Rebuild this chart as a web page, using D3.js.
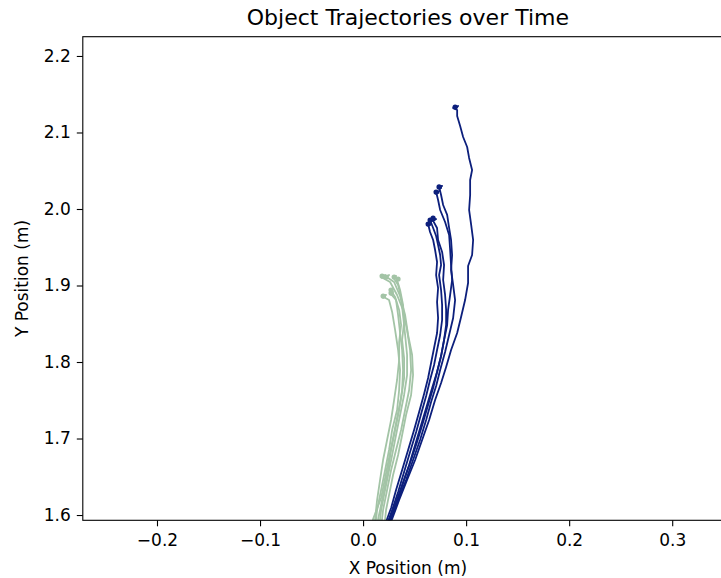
<!DOCTYPE html>
<html><head><meta charset="utf-8">
<script src="https://cdn.jsdelivr.net/npm/d3@7"></script>
<style>body{margin:0;background:#fff}svg{display:block}text{font-family:"DejaVu Sans",sans-serif;fill:#000}</style>
</head><body>
<svg id="c" width="721" height="578"></svg>
<script>
const title = "Object Trajectories over Time";
const xLabel = "X Position (m)";
const yLabel = "Y Position (m)";
const xTicks = [-0.2, -0.1, 0.0, 0.1, 0.2, 0.3];
const yTicks = [1.6, 1.7, 1.8, 1.9, 2.0, 2.1, 2.2];
const xDomain = [-0.272, 0.359];
const yDomain = [1.5931, 2.2252];

// navy group trajectories [x, y]
const navy1 = [[0.0874,2.1333],[0.0922,2.1346],[0.0893,2.1307],[0.0874,2.1320],[0.0913,2.1294],[0.0913,2.1216],[0.0942,2.1085],[0.0971,2.0941],[0.1010,2.0810],[0.1029,2.0667],[0.1058,2.0510],[0.1039,2.0379],[0.1039,2.0183],[0.1029,1.9987],[0.1049,1.9791],[0.1068,1.9595],[0.1058,1.9399],[0.1019,1.9255],[0.1019,1.9033],[0.0990,1.8810],[0.0951,1.8588],[0.0913,1.8379],[0.0854,1.8157],[0.0806,1.7935],[0.0757,1.7725],[0.0699,1.7503],[0.0641,1.7242],[0.0573,1.6980],[0.0505,1.6719],[0.0427,1.6458],[0.0350,1.6196],[0.0282,1.5948],[0.0260,1.588]];
const navy2 = [[0.0718,2.0288],[0.0767,2.0301],[0.0738,2.0262],[0.0757,2.0275],[0.0738,2.0288],[0.0757,2.0183],[0.0777,2.0052],[0.0816,1.9922],[0.0835,1.9752],[0.0854,1.9595],[0.0864,1.9399],[0.0854,1.9203],[0.0874,1.9007],[0.0893,1.8810],[0.0874,1.8575],[0.0835,1.8353],[0.0796,1.8131],[0.0748,1.7895],[0.0709,1.7686],[0.0660,1.7477],[0.0612,1.7242],[0.0553,1.6980],[0.0485,1.6719],[0.0417,1.6458],[0.0340,1.6196],[0.0272,1.5948],[0.0250,1.588]];
const navy3 = [[0.0689,2.0222],[0.0738,2.0235],[0.0709,2.0196],[0.0728,2.0209],[0.0709,2.0222],[0.0728,2.0118],[0.0748,1.9987],[0.0796,1.9830],[0.0835,1.9660],[0.0845,1.9464],[0.0854,1.9268],[0.0864,1.9072],[0.0845,1.8876],[0.0825,1.8680],[0.0816,1.8484],[0.0786,1.8288],[0.0757,1.8078],[0.0718,1.7869],[0.0670,1.7660],[0.0621,1.7438],[0.0563,1.7176],[0.0505,1.6915],[0.0447,1.6654],[0.0379,1.6392],[0.0311,1.6131],[0.0252,1.5948],[0.0235,1.588]];
const navy4 = [[0.0631,1.9856],[0.0680,1.9869],[0.0650,1.9830],[0.0670,1.9843],[0.0650,1.9856],[0.0680,1.9752],[0.0709,1.9647],[0.0728,1.9529],[0.0748,1.9399],[0.0757,1.9268],[0.0738,1.9137],[0.0757,1.8941],[0.0767,1.8745],[0.0767,1.8549],[0.0748,1.8353],[0.0718,1.8157],[0.0689,1.7961],[0.0650,1.7765],[0.0612,1.7556],[0.0563,1.7320],[0.0515,1.7085],[0.0456,1.6824],[0.0398,1.6562],[0.0340,1.6301],[0.0282,1.6065],[0.0252,1.5948],[0.0240,1.588]];
const navy5 = [[0.0612,1.9804],[0.0660,1.9817],[0.0631,1.9778],[0.0650,1.9791],[0.0631,1.9804],[0.0650,1.9699],[0.0680,1.9595],[0.0699,1.9464],[0.0718,1.9307],[0.0709,1.9137],[0.0728,1.8967],[0.0718,1.8784],[0.0728,1.8575],[0.0718,1.8379],[0.0689,1.8183],[0.0660,1.7987],[0.0631,1.7791],[0.0592,1.7582],[0.0544,1.7346],[0.0495,1.7111],[0.0437,1.6850],[0.0379,1.6588],[0.0320,1.6327],[0.0272,1.6092],[0.0233,1.5948],[0.0220,1.588]];
const navy6 = [[0.0660,1.9882],[0.0709,1.9869],[0.0680,1.9843],[0.0670,1.9870],[0.0718,1.9752],[0.0728,1.9595],[0.0767,1.9438],[0.0786,1.9268],[0.0777,1.9072],[0.0796,1.8876],[0.0806,1.8680],[0.0806,1.8484],[0.0786,1.8288],[0.0757,1.8078],[0.0718,1.7869],[0.0680,1.7660],[0.0631,1.7438],[0.0583,1.7216],[0.0524,1.6954],[0.0466,1.6719],[0.0398,1.6458],[0.0340,1.6222],[0.0282,1.6026],[0.0262,1.5948],[0.0250,1.588]];

// sage green group trajectories [x, y]
const green1 = [[0.0165,1.9124],[0.0214,1.9137],[0.0184,1.9098],[0.0204,1.9111],[0.0175,1.9111],[0.0262,1.9046],[0.0330,1.8876],[0.0388,1.8680],[0.0427,1.8418],[0.0456,1.8157],[0.0466,1.7895],[0.0447,1.7634],[0.0408,1.7373],[0.0369,1.7111],[0.0320,1.6850],[0.0272,1.6588],[0.0233,1.6327],[0.0194,1.6065],[0.0184,1.5948],[0.0180,1.588]];
const green2 = [[0.0204,1.9111],[0.0252,1.9137],[0.0223,1.9098],[0.0243,1.9124],[0.0214,1.9124],[0.0301,1.9046],[0.0359,1.8863],[0.0408,1.8614],[0.0437,1.8353],[0.0476,1.8092],[0.0485,1.7830],[0.0466,1.7569],[0.0417,1.7307],[0.0379,1.7046],[0.0340,1.6784],[0.0291,1.6523],[0.0252,1.6261],[0.0223,1.6065],[0.0214,1.5948],[0.0210,1.588]];
const green3 = [[0.0282,1.9111],[0.0320,1.9124],[0.0301,1.9085],[0.0311,1.9098],[0.0291,1.9111],[0.0340,1.9007],[0.0369,1.8837],[0.0388,1.8614],[0.0408,1.8353],[0.0427,1.8092],[0.0427,1.7830],[0.0398,1.7569],[0.0359,1.7307],[0.0320,1.7046],[0.0282,1.6784],[0.0243,1.6523],[0.0204,1.6261],[0.0175,1.6065],[0.0165,1.5948],[0.0160,1.588]];
const green4 = [[0.0175,1.8863],[0.0223,1.8876],[0.0194,1.8837],[0.0214,1.8850],[0.0184,1.8863],[0.0252,1.8810],[0.0282,1.8654],[0.0311,1.8418],[0.0340,1.8157],[0.0359,1.7895],[0.0350,1.7634],[0.0330,1.7373],[0.0282,1.7111],[0.0252,1.6850],[0.0214,1.6588],[0.0175,1.6327],[0.0136,1.6065],[0.0126,1.5948],[0.0120,1.588]];
const green5 = [[0.0252,1.8902],[0.0291,1.8915],[0.0272,1.8876],[0.0291,1.8889],[0.0262,1.8902],[0.0320,1.8810],[0.0340,1.8614],[0.0359,1.8379],[0.0379,1.8157],[0.0388,1.7895],[0.0379,1.7634],[0.0350,1.7373],[0.0311,1.7111],[0.0272,1.6850],[0.0243,1.6588],[0.0204,1.6327],[0.0165,1.6065],[0.0146,1.5948],[0.0140,1.588]];
const green6 = [[0.0320,1.9085],[0.0350,1.9098],[0.0330,1.9072],[0.0359,1.8941],[0.0388,1.8745],[0.0398,1.8523],[0.0379,1.8288],[0.0398,1.8052],[0.0398,1.7791],[0.0369,1.7529],[0.0330,1.7268],[0.0291,1.7007],[0.0252,1.6745],[0.0214,1.6484],[0.0175,1.6222],[0.0097,1.5948],[0.0090,1.588]];
const green7 = [[0.0252,1.8941],[0.0291,1.8954],[0.0272,1.8928],[0.0311,1.8850],[0.0350,1.8680],[0.0369,1.8484],[0.0350,1.8261],[0.0350,1.8026],[0.0330,1.7765],[0.0301,1.7503],[0.0272,1.7242],[0.0233,1.6980],[0.0194,1.6719],[0.0165,1.6458],[0.0136,1.6196],[0.0117,1.5948],[0.0110,1.588]];

const navyGroup = [navy1, navy2, navy3, navy4, navy5, navy6];
const greenGroup = [green1, green2, green3, green4, green5, green6, green7];
const navyColor = "#0c1f7c";
const greenColor = "#a3c4a6";

const svg = d3.select("#c");
const m = {left: 82.8, top: 36.7, right: 733, bottom: 520.3};
const x = d3.scaleLinear().domain(xDomain).range([m.left, m.right]);
const y = d3.scaleLinear().domain(yDomain).range([m.bottom, m.top]);

svg.append("defs").append("clipPath").attr("id","clip").append("rect")
  .attr("x", m.left).attr("y", m.top).attr("width", m.right - m.left).attr("height", m.bottom - m.top);

const line = d3.line().x(d => x(d[0])).y(d => y(d[1]));
const g = svg.append("g").attr("clip-path","url(#clip)");
g.selectAll(".gl").data(greenGroup).join("path").attr("class","gl")
  .attr("d", line).attr("fill","none").attr("stroke", greenColor).attr("stroke-width",1.8).attr("stroke-linejoin","round");
g.selectAll(".nl").data(navyGroup).join("path").attr("class","nl")
  .attr("d", line).attr("fill","none").attr("stroke", navyColor).attr("stroke-width",1.8).attr("stroke-linejoin","round");
// start blobs
g.selectAll(".gs").data(greenGroup).join("circle").attr("class","gs")
  .attr("cx", d => x(d[0][0]) + 2).attr("cy", d => y(d[0][1])).attr("r", 2.6).attr("fill", greenColor);
g.selectAll(".ns").data(navyGroup).join("circle").attr("class","ns")
  .attr("cx", d => x(d[0][0]) + 2).attr("cy", d => y(d[0][1])).attr("r", 2.6).attr("fill", navyColor);

// axes
const fmt = d => d3.format(".1f")(d).replace("-", "\u2212");
const xa = svg.append("g").attr("transform", `translate(0,${m.bottom})`)
  .call(d3.axisBottom(x).tickValues(xTicks).tickFormat(fmt).tickSize(6).tickPadding(8));
const ya = svg.append("g").attr("transform", `translate(${m.left},0)`)
  .call(d3.axisLeft(y).tickValues(yTicks).tickFormat(fmt).tickSize(6).tickPadding(6));
[xa, ya].forEach(a => {
  a.select(".domain").remove();
  a.selectAll("line").attr("stroke","#000").attr("stroke-width",1.1);
  a.selectAll("text").attr("font-size","17px").attr("font-family","DejaVu Sans").attr("fill","#000");
});
// frame
svg.append("rect").attr("x", m.left).attr("y", m.top).attr("width", m.right - m.left).attr("height", m.bottom - m.top)
  .attr("fill","none").attr("stroke","#000").attr("stroke-width",1.1);

svg.append("text").attr("x", (m.left + m.right)/2).attr("y", 25).attr("text-anchor","middle")
  .attr("font-size","22px").text(title);
svg.append("text").attr("x", (m.left + m.right)/2).attr("y", 574).attr("text-anchor","middle")
  .attr("font-size","17px").text(xLabel);
svg.append("text").attr("transform", `translate(28,${(m.top + m.bottom)/2}) rotate(-90)`).attr("text-anchor","middle")
  .attr("font-size","17px").text(yLabel);
</script>
</body></html>
